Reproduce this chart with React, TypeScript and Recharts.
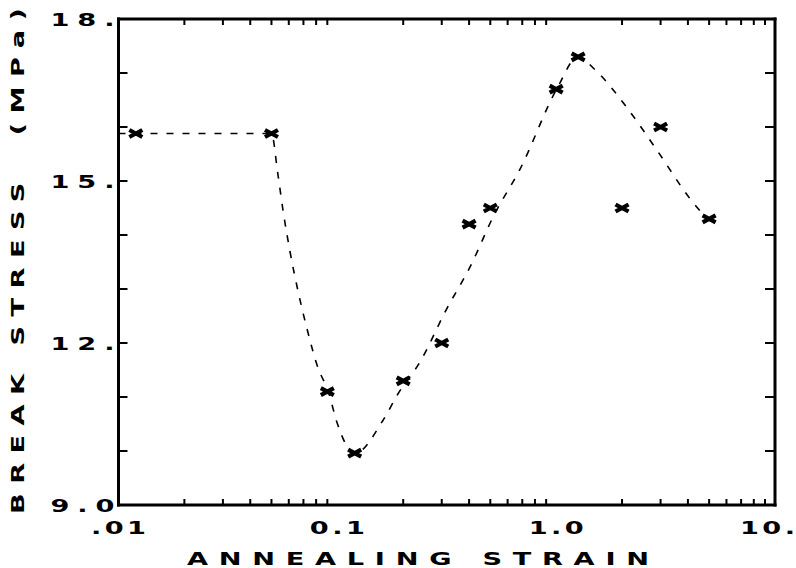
import React from 'react';
import { ComposedChart, Line, Scatter, XAxis, YAxis } from 'recharts';

// Measured break stress against annealing strain
const strainPoints = [0.012, 0.05, 0.09, 0.12, 0.2, 0.3, 0.4, 0.5, 1.0, 1.26, 2.0, 3.0, 5.0];
const stressPoints = [15.88, 15.88, 11.1, 9.96, 11.3, 12.0, 14.2, 14.5, 16.7, 17.3, 14.5, 16.0, 14.3];

// Hand-drawn trend curve through the measurements
const trendStrain = [
  0.01, 0.05, 0.0534, 0.0566, 0.0608, 0.0663, 0.0725, 0.0816, 0.091, 0.0994, 0.1205,
  0.1618, 0.1894, 0.2388, 0.3139, 0.4042, 0.5202, 0.6839, 1.005, 1.26, 1.506, 2.131,
  2.922, 4.093, 4.946,
];
const trendStress = [
  15.88, 15.88, 15.15, 14.43, 13.69, 12.94, 12.28, 11.54, 11.1, 10.54, 9.96,
  10.57, 11.06, 11.65, 12.61, 13.41, 14.37, 15.22, 16.7, 17.3, 17.06, 16.33,
  15.54, 14.67, 14.28,
];

// Axis ticks and labels
const xTicks = [
  0.01, 0.02, 0.03, 0.04, 0.05, 0.06, 0.07, 0.08, 0.09,
  0.1, 0.2, 0.3, 0.4, 0.5, 0.6, 0.7, 0.8, 0.9,
  1, 2, 3, 4, 5, 6, 7, 8, 9, 10,
];
const xLabelValues = [0.01, 0.1, 1, 10];
const xLabelText = ['.01', '0.1', '1.0', '10.'];
const yTicks = [9, 10, 11, 12, 13, 14, 15, 16, 17, 18];
const yLabelValues = [9, 12, 15, 18];
const yLabelText = ['9.0', '12.', '15.', '18.'];

const measured = strainPoints.map((x, i) => ({ x, y: stressPoints[i] }));
const trend = trendStrain.map((x, i) => ({ x, y: trendStress[i] }));

const FONT = '"DejaVu Sans", sans-serif';
const INK = '#000';
const STRETCH = 1.6;

// Wide, plotter-style lettering: glyphs stretched horizontally and spread to a fixed width
const WideText = (p: {
  x: number; y: number; width: number; anchor: 'start' | 'middle' | 'end';
  rotate?: number; children: React.ReactNode;
}) => (
  <text
    transform={`translate(${p.x} ${p.y}) rotate(${p.rotate || 0}) scale(${STRETCH} 1)`}
    x={0} y={0} textAnchor={p.anchor} dominantBaseline="central"
    textLength={p.width / STRETCH} lengthAdjust="spacing"
    style={{ whiteSpace: 'pre' }}
    fontFamily={FONT} fontWeight="bold" fontSize={17} fill={INK}>
    {p.children}
  </text>
);

const BottomTick = (props: any) => {
  const { x, y, payload } = props;
  const i = xLabelValues.indexOf(payload.value);
  if (i >= 0) {
    const last = i === xLabelValues.length - 1;
    return (
      <WideText x={last ? 795 : x} y={y + 23} width={55} anchor={last ? 'end' : 'middle'}>
        {xLabelText[i]}
      </WideText>
    );
  }
  return <line x1={x} x2={x} y1={y} y2={y - 6} stroke={INK} strokeWidth={2} />;
};

const TopTick = (props: any) => {
  const { x, y, payload } = props;
  if (xLabelValues.indexOf(payload.value) >= 0) return <g />;
  return <line x1={x} x2={x} y1={y} y2={y + 6} stroke={INK} strokeWidth={2} />;
};

const LeftTick = (props: any) => {
  const { x, y, payload } = props;
  const i = yLabelValues.indexOf(payload.value);
  return (
    <g>
      <line x1={x} x2={x + 9} y1={y} y2={y} stroke={INK} strokeWidth={2} />
      {i >= 0 && (
        <WideText x={x - 68} y={y + 1} width={64} anchor="start">
          {yLabelText[i]}
        </WideText>
      )}
    </g>
  );
};

const RightTick = (props: any) => {
  const { x, y } = props;
  return <line x1={x} x2={x - 10} y1={y} y2={y} stroke={INK} strokeWidth={2} />;
};

const XTitle = () => (
  <WideText x={418} y={559} width={462} anchor="middle">
    ANNEALING STRAIN
  </WideText>
);

const YTitle = () => (
  <WideText x={18} y={261} width={506} anchor="middle" rotate={-90}>
    {'BREAK STRESS  (MPa)'}
  </WideText>
);

const Cross = (props: any) => {
  const { cx, cy } = props;
  return (
    <path
      d={`M${cx - 6.5},${cy - 3.5}L${cx + 6.5},${cy + 3.5}M${cx - 6.5},${cy + 3.5}L${cx + 6.5},${cy - 3.5}`}
      stroke={INK} strokeWidth={4.2} fill="none"
    />
  );
};

const axisLine = { stroke: INK, strokeWidth: 3, strokeLinecap: 'square' as const };

export default function App() {
  return (
    <div style={{ position: 'absolute', left: 0, top: 0, background: '#fff' }}>
      <ComposedChart width={796} height={568}
        margin={{ top: 9, right: 11, bottom: 13, left: 18.5 }}>
        <XAxis xAxisId="bottom" dataKey="x" type="number" scale="log"
          domain={[0.01, 10]} allowDataOverflow ticks={xTicks} interval={0}
          height={50} tickSize={0} tickMargin={0} axisLine={axisLine}
          tickLine={false} tick={BottomTick} label={{ content: XTitle }} />
        <XAxis xAxisId="top" orientation="top" dataKey="x" type="number" scale="log"
          domain={[0.01, 10]} allowDataOverflow ticks={xTicks} interval={0}
          height={10} tickSize={0} tickMargin={0} axisLine={axisLine}
          tickLine={false} tick={TopTick} />
        <YAxis yAxisId="left" dataKey="y" type="number" domain={[9, 18]}
          allowDataOverflow ticks={yTicks} interval={0} width={100}
          tickSize={0} tickMargin={0} axisLine={axisLine} tickLine={false}
          tick={LeftTick} label={{ content: YTitle }} />
        <YAxis yAxisId="right" orientation="right" dataKey="y" type="number"
          domain={[9, 18]} allowDataOverflow ticks={yTicks} interval={0} width={10}
          tickSize={0} tickMargin={0} axisLine={axisLine} tickLine={false}
          tick={RightTick} />
        <Line xAxisId="bottom" yAxisId="left" data={trend} dataKey="y" type="monotone"
          stroke={INK} strokeWidth={1.6} strokeDasharray="7 9" dot={false}
          activeDot={false} isAnimationActive={false} />
        <Scatter xAxisId="bottom" yAxisId="left" data={measured} dataKey="y"
          shape={Cross} isAnimationActive={false} />
      </ComposedChart>
    </div>
  );
}
